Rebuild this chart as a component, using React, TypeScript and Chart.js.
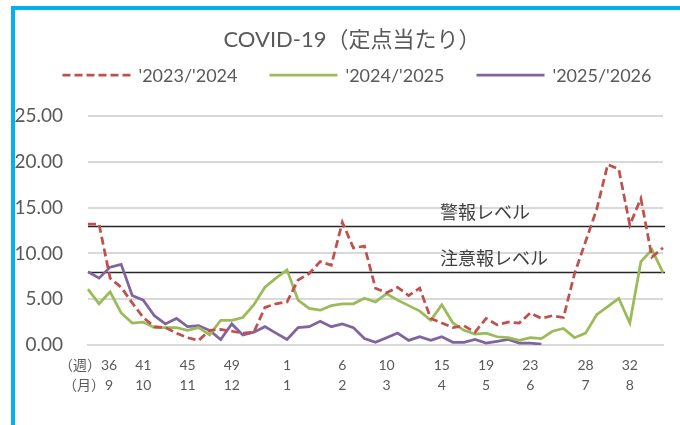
import React, { useEffect, useRef } from "react";
import { Chart, registerables } from "chart.js";

Chart.register(...registerables);

// ---- data ----
const weeks = [
  36, 37, 38, 39, 40, 41, 42, 43, 44, 45, 46, 47, 48, 49, 50, 51, 52, 53,
  1, 2, 3, 4, 5, 6, 7, 8, 9, 10, 11, 12, 13, 14, 15, 16, 17, 18, 19, 20,
  21, 22, 23, 24, 25, 26, 27, 28, 29, 30, 31, 32, 33, 34, 35,
];
const tickWeeks = [36, 41, 45, 49, 1, 6, 10, 15, 19, 23, 28, 32];
const tickMonths = [9, 10, 11, 12, 1, 2, 3, 4, 5, 6, 7, 8];

const seriesNames = ["'2023/'2024", "'2024/'2025", "'2025/'2026"];

const season2324 = [
  13.2, 13.2, 7.3, 6.3, 4.6, 3.0, 2.0, 1.9, 1.3, 0.8, 0.5, 1.6, 1.7, 1.5, 1.3,
  1.4, 4.1, 4.5, 4.7, 7.1, 7.8, 9.1, 8.7, 13.4, 10.6, 10.8, 6.2, 5.7, 6.3, 5.4,
  6.2, 2.9, 2.4, 1.9, 2.1, 1.4, 2.9, 2.2, 2.5, 2.4, 3.5, 2.9, 3.2, 3.0, 7.8,
  11.3, 14.8, 19.7, 19.2, 13.1, 16.0, 9.6, 10.6,
];
const season2425 = [
  6.1, 4.5, 5.8, 3.5, 2.4, 2.5, 1.9, 1.9, 1.9, 1.6, 1.9, 1.1, 2.7, 2.7, 3.0,
  4.4, 6.3, 7.3, 8.2, 4.9, 4.0, 3.8, 4.3, 4.5, 4.5, 5.1, 4.7, 5.6, 4.9, 4.3,
  3.7, 2.7, 4.4, 2.4, 1.6, 1.2, 1.3, 0.9, 0.8, 0.5, 0.8, 0.7, 1.5, 1.8, 0.8,
  1.3, 3.3, 4.2, 5.1, 2.4, 9.1, 10.4, 7.9,
];
const season2526 = [
  8.0, 7.3, 8.5, 8.8, 5.4, 4.9, 3.2, 2.3, 2.9, 2.0, 2.1, 1.6, 0.6, 2.3, 1.1,
  1.4, 2.0, 1.3, 0.6, 1.9, 2.0, 2.6, 2.0, 2.3, 1.9, 0.7, 0.3, 0.8, 1.3, 0.5,
  0.9, 0.5, 0.9, 0.3, 0.3, 0.6, 0.2, 0.4, 0.6, 0.2, 0.2, 0.1,
];

const levelValues = [13, 8];
const levelLabels = ["警報レベル", "注意報レベル"];

const Y_MAX = 25;
const Y_STEP = 5;

const TITLE = "COVID-19（定点当たり）";
const FONT = "Lato, 'Noto Sans CJK JP', sans-serif";
const TEXT = "#595959";

const legendPlugin = {
  id: "customLegend",
  afterDraw(chart: any) {
    const ctx = chart.ctx;
    ctx.save();
    ctx.font = `18px ${FONT}`;
    const lineLen = 68;
    const gap = 8;
    const spacing = 32;
    const items = chart.data.datasets.map((ds: any) => ({
      ds,
      w: ctx.measureText(ds.label).width,
    }));
    const total =
      items.reduce((s: number, it: any) => s + lineLen + gap + it.w, 0) +
      spacing * (items.length - 1);
    let x = 357 - total / 2;
    const y = 75;
    items.forEach(({ ds, w }: any) => {
      ctx.strokeStyle = ds.borderColor;
      ctx.lineWidth = ds.borderWidth;
      ctx.setLineDash(ds.borderDash || []);
      ctx.beginPath();
      ctx.moveTo(x, y);
      ctx.lineTo(x + lineLen, y);
      ctx.stroke();
      ctx.setLineDash([]);
      ctx.fillStyle = TEXT;
      ctx.textBaseline = "middle";
      ctx.textAlign = "left";
      ctx.fillText(ds.label, x + lineLen + gap, y + 1);
      x += lineLen + gap + w + spacing;
    });
    ctx.restore();
  },
};

const levelsPlugin = {
  id: "levels",
  beforeDatasetsDraw(chart: any) {
    const { ctx, chartArea: a, scales } = chart;
    const y = scales.y;
    ctx.save();
    levelValues.forEach((v, i) => {
      const py = Math.round(y.getPixelForValue(v)) + 0.5;
      ctx.strokeStyle = "#262626";
      ctx.lineWidth = 1.3;
      ctx.beginPath();
      ctx.moveTo(a.left, py);
      ctx.lineTo(a.right + 2, py);
      ctx.stroke();
      ctx.font = `18px 'Noto Sans CJK JP', sans-serif`;
      ctx.fillStyle = "#404040";
      ctx.textBaseline = "middle";
      ctx.textAlign = "left";
      ctx.fillText(levelLabels[i], a.left + 352, py - 14);
    });
    ctx.restore();
  },
};

export default function App() {
  const ref = useRef<HTMLCanvasElement | null>(null);

  useEffect(() => {
    document.body.style.margin = "0";
    if (!ref.current) return;
    const chart = new Chart(ref.current, {
      type: "line",
      data: {
        labels: weeks.map(String),
        datasets: [
          {
            label: seriesNames[0],
            data: season2324,
            borderColor: "#c0504d",
            borderWidth: 2.75,
            borderDash: [8, 4],
            pointRadius: 0,
            tension: 0,
            fill: false,
          },
          {
            label: seriesNames[1],
            data: season2425,
            borderColor: "#9bbb59",
            borderWidth: 2.75,
            pointRadius: 0,
            tension: 0,
            fill: false,
          },
          {
            label: seriesNames[2],
            data: season2526,
            borderColor: "#8064a2",
            borderWidth: 2.75,
            pointRadius: 0,
            tension: 0,
            fill: false,
          },
        ],
      },
      options: {
        responsive: false,
        animation: false,
        devicePixelRatio: 1,
        layout: { padding: { left: 12, right: -12, top: 0, bottom: 0 } },
        plugins: {
          legend: { display: false },
          tooltip: { enabled: false },
          title: {
            display: true,
            text: TITLE,
            color: TEXT,
            font: { family: FONT, size: 22, weight: "normal" },
            padding: { top: 27, bottom: 62.6 },
          },
        },
        scales: {
          x: {
            type: "category",
            grid: { display: false, drawTicks: false },
            border: { display: true, color: "#d9d9d9", width: 2 },
            ticks: {
              autoSkip: false,
              maxRotation: 0,
              minRotation: 0,
              padding: 11,
              color: TEXT,
              font: { family: FONT, size: 14, lineHeight: 1.4 },
              callback: (_v: any, index: number) => {
                const w = weeks[index];
                const k = tickWeeks.indexOf(w);
                if (k < 0) return "";
                if (index === 0)
                  return ["（週）" + w, "（月）" + tickMonths[k]];
                return [String(w), String(tickMonths[k])];
              },
            },
            afterFit: (s: any) => {
              s.height = 80;
            },
          },
          y: {
            min: 0,
            max: Y_MAX,
            border: { display: false },
            grid: { color: "#d9d9d9", lineWidth: 2, drawTicks: false },
            ticks: {
              stepSize: Y_STEP,
              padding: 25,
              color: TEXT,
              font: { family: FONT, size: 19 },
              callback: (v: any) => Number(v).toFixed(2),
            },
            afterFit: (s: any) => {
              s.width = 76;
            },
          },
          yRight: {
            type: "linear",
            position: "right",
            display: true,
            min: 0,
            max: Y_MAX,
            border: { display: false },
            grid: { display: false, drawTicks: false },
            ticks: { display: false },
            afterFit: (s: any) => {
              s.width = 29;
            },
          },
        },
      },
      plugins: [levelsPlugin, legendPlugin],
    });
    return () => chart.destroy();
  }, []);

  return (
    <div
      style={{
        position: "relative",
        width: 680,
        height: 425,
        overflow: "hidden",
        background: "#fff",
      }}
    >
      <div
        style={{
          position: "absolute",
          left: 11,
          top: 6,
          width: 700,
          height: 415,
          borderLeft: "4px solid #00b0f0",
          borderTop: "4px solid #00b0f0",
          borderBottom: "2px solid #cdeffc",
        }}
      />
      <canvas
        ref={ref}
        width={680}
        height={425}
        style={{ position: "absolute", left: 0, top: 0, display: "block" }}
      />
    </div>
  );
}
